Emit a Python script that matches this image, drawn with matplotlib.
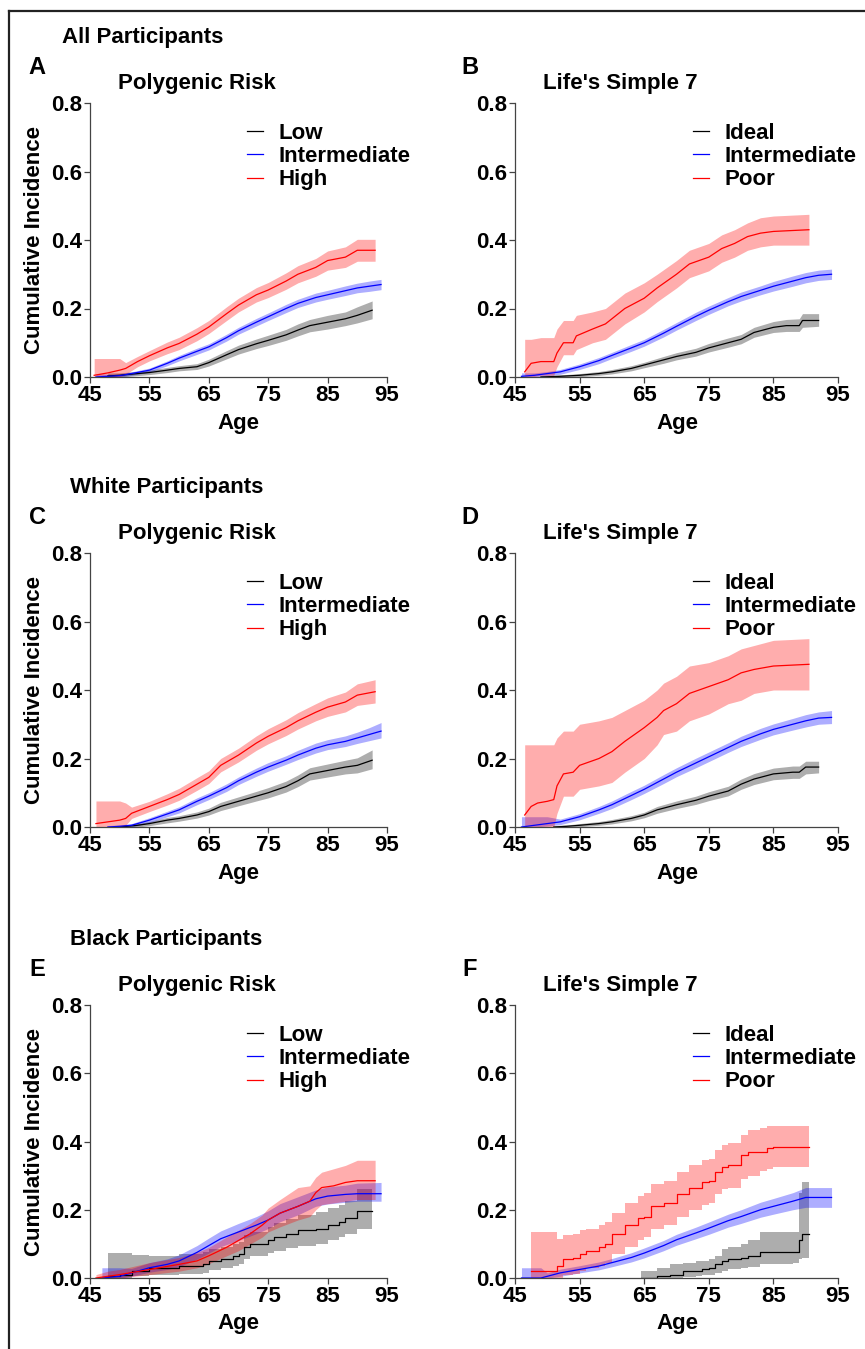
import matplotlib
matplotlib.use("Agg")
import matplotlib.pyplot as plt
from matplotlib.lines import Line2D

plt.rcParams['font.family'] = ['Liberation Sans', 'DejaVu Sans']
plt.rcParams['font.weight'] = 'bold'

# ---- data (age, estimate, lower CI, upper CI) ----
# A: all participants, polygenic risk
a_low_age = [48, 50, 53, 55, 58, 60, 63, 65, 68, 70, 73, 75, 78, 80, 82, 85, 88, 90, 92.5]
a_low_est = [0.003, 0.005, 0.01, 0.013, 0.02, 0.025, 0.03, 0.042, 0.065, 0.08, 0.097, 0.107, 0.123, 0.137, 0.15, 0.16, 0.17, 0.18, 0.195]
a_low_lo = [0.0, 0.0, 0.004, 0.007, 0.013, 0.018, 0.022, 0.032, 0.053, 0.067, 0.083, 0.092, 0.107, 0.12, 0.132, 0.14, 0.15, 0.158, 0.17]
a_low_hi = [0.012, 0.012, 0.016, 0.02, 0.028, 0.033, 0.039, 0.052, 0.077, 0.093, 0.111, 0.122, 0.139, 0.155, 0.168, 0.18, 0.19, 0.205, 0.222]

a_int_age = [46, 48, 50, 52, 55, 58, 60, 63, 65, 68, 70, 73, 75, 78, 80, 83, 85, 88, 90, 92, 94]
a_int_est = [0.0, 0.002, 0.004, 0.01, 0.02, 0.04, 0.055, 0.075, 0.088, 0.115, 0.135, 0.16, 0.176, 0.2, 0.215, 0.232, 0.24, 0.252, 0.26, 0.265, 0.27]
a_int_lo = [0.0, 0.0, 0.0, 0.005, 0.014, 0.033, 0.047, 0.066, 0.079, 0.105, 0.125, 0.149, 0.165, 0.188, 0.203, 0.219, 0.227, 0.238, 0.246, 0.25, 0.255]
a_int_hi = [0.01, 0.008, 0.009, 0.015, 0.026, 0.047, 0.063, 0.084, 0.097, 0.125, 0.145, 0.171, 0.187, 0.212, 0.227, 0.245, 0.253, 0.266, 0.274, 0.28, 0.285]

a_high_age = [45.7, 48, 50, 51, 53, 55, 58, 60, 63, 65, 68, 70, 73, 75, 78, 80, 83, 85, 88, 90, 93]
a_high_est = [0.005, 0.012, 0.02, 0.025, 0.045, 0.062, 0.085, 0.098, 0.125, 0.146, 0.185, 0.21, 0.24, 0.254, 0.28, 0.3, 0.32, 0.34, 0.35, 0.37, 0.37]
a_high_lo = [0.0, 0.0, 0.0, 0.008, 0.03, 0.047, 0.068, 0.08, 0.106, 0.127, 0.165, 0.19, 0.219, 0.232, 0.256, 0.275, 0.294, 0.312, 0.32, 0.338, 0.338]
a_high_hi = [0.054, 0.054, 0.054, 0.042, 0.06, 0.077, 0.102, 0.116, 0.144, 0.165, 0.205, 0.23, 0.261, 0.276, 0.304, 0.325, 0.346, 0.368, 0.38, 0.402, 0.402]

# B: all participants, Life's Simple 7
b_ideal_age = [49, 52, 55, 58, 60, 63, 65, 68, 70, 73, 75, 78, 80, 82, 85, 87, 89, 89.5, 92]
b_ideal_est = [0.0, 0.002, 0.005, 0.01, 0.015, 0.025, 0.035, 0.05, 0.06, 0.072, 0.085, 0.1, 0.11, 0.13, 0.145, 0.15, 0.15, 0.165, 0.165]
b_ideal_lo = [0.0, 0.0, 0.001, 0.005, 0.009, 0.018, 0.027, 0.04, 0.05, 0.061, 0.073, 0.087, 0.097, 0.116, 0.13, 0.133, 0.133, 0.145, 0.148]
b_ideal_hi = [0.004, 0.006, 0.01, 0.016, 0.022, 0.033, 0.043, 0.06, 0.071, 0.084, 0.098, 0.114, 0.124, 0.145, 0.162, 0.168, 0.17, 0.185, 0.185]

b_int_age = [46, 48, 50, 52, 55, 58, 60, 63, 65, 68, 70, 73, 75, 78, 80, 83, 85, 88, 90, 92, 94]
b_int_est = [0.002, 0.005, 0.01, 0.015, 0.03, 0.048, 0.063, 0.085, 0.1, 0.128, 0.148, 0.177, 0.195, 0.22, 0.235, 0.253, 0.265, 0.28, 0.29, 0.297, 0.3]
b_int_lo = [0.0, 0.0, 0.004, 0.008, 0.022, 0.039, 0.054, 0.075, 0.09, 0.117, 0.137, 0.165, 0.183, 0.208, 0.222, 0.24, 0.251, 0.265, 0.275, 0.282, 0.285]
b_int_hi = [0.012, 0.012, 0.016, 0.022, 0.038, 0.057, 0.072, 0.095, 0.11, 0.139, 0.159, 0.189, 0.207, 0.232, 0.248, 0.266, 0.279, 0.295, 0.305, 0.312, 0.315]

b_poor_age = [46.5, 47.5, 49, 51, 51.5, 52.5, 54, 54.5, 57, 59, 60, 62, 65, 67, 70, 72, 75, 77, 79, 81, 83, 85, 90.5]
b_poor_est = [0.015, 0.04, 0.045, 0.045, 0.07, 0.1, 0.1, 0.12, 0.14, 0.155, 0.17, 0.2, 0.23, 0.26, 0.3, 0.33, 0.35, 0.375, 0.39, 0.41, 0.42, 0.425, 0.43]
b_poor_lo = [0.0, 0.0, 0.005, 0.005, 0.03, 0.065, 0.065, 0.08, 0.1, 0.11, 0.125, 0.155, 0.19, 0.22, 0.26, 0.29, 0.31, 0.335, 0.35, 0.37, 0.38, 0.385, 0.385]
b_poor_hi = [0.11, 0.11, 0.115, 0.115, 0.14, 0.165, 0.165, 0.18, 0.19, 0.2, 0.215, 0.245, 0.275, 0.3, 0.34, 0.37, 0.39, 0.415, 0.43, 0.45, 0.465, 0.47, 0.475]

# C: white participants, polygenic risk
c_low_age = [50, 53, 55, 58, 60, 63, 65, 67, 70, 73, 75, 78, 80, 82, 85, 88, 90, 92.5]
c_low_est = [0.0, 0.005, 0.01, 0.02, 0.025, 0.035, 0.045, 0.06, 0.075, 0.09, 0.1, 0.118, 0.135, 0.155, 0.165, 0.175, 0.18, 0.195]
c_low_lo = [0.0, 0.0, 0.004, 0.012, 0.017, 0.026, 0.035, 0.048, 0.062, 0.076, 0.085, 0.102, 0.118, 0.137, 0.146, 0.155, 0.158, 0.17]
c_low_hi = [0.004, 0.01, 0.016, 0.028, 0.033, 0.044, 0.055, 0.072, 0.088, 0.104, 0.115, 0.134, 0.152, 0.173, 0.184, 0.195, 0.202, 0.225]

c_int_age = [48, 50, 52, 55, 58, 60, 63, 65, 68, 70, 73, 75, 78, 80, 83, 85, 88, 90, 92, 94]
c_int_est = [0.0, 0.002, 0.005, 0.02, 0.038, 0.05, 0.075, 0.09, 0.115, 0.135, 0.16, 0.175, 0.195, 0.21, 0.23, 0.24, 0.25, 0.26, 0.27, 0.28]
c_int_lo = [0.0, 0.0, 0.0, 0.013, 0.03, 0.041, 0.065, 0.08, 0.104, 0.124, 0.148, 0.163, 0.183, 0.197, 0.216, 0.226, 0.235, 0.244, 0.252, 0.26]
c_int_hi = [0.004, 0.006, 0.01, 0.027, 0.046, 0.059, 0.085, 0.1, 0.126, 0.146, 0.172, 0.188, 0.208, 0.224, 0.245, 0.255, 0.266, 0.277, 0.29, 0.305]

c_high_age = [46, 48, 50, 51, 52, 55, 58, 60, 63, 65, 67, 70, 73, 75, 78, 80, 83, 85, 88, 90, 93]
c_high_est = [0.01, 0.015, 0.02, 0.025, 0.04, 0.06, 0.08, 0.095, 0.125, 0.145, 0.18, 0.21, 0.245, 0.265, 0.29, 0.31, 0.335, 0.35, 0.365, 0.385, 0.395]
c_high_lo = [0.0, 0.0, 0.0, 0.005, 0.025, 0.045, 0.064, 0.078, 0.107, 0.127, 0.161, 0.19, 0.224, 0.243, 0.267, 0.286, 0.31, 0.323, 0.336, 0.355, 0.362]
c_high_hi = [0.076, 0.076, 0.076, 0.07, 0.058, 0.075, 0.097, 0.113, 0.144, 0.164, 0.2, 0.23, 0.266, 0.287, 0.313, 0.334, 0.36, 0.377, 0.394, 0.418, 0.43]

# D: white participants, Life's Simple 7
d_ideal_age = [51, 53, 55, 58, 60, 63, 65, 67, 70, 73, 75, 78, 80, 82, 85, 88, 89, 90, 92]
d_ideal_est = [0.0, 0.002, 0.005, 0.01, 0.015, 0.025, 0.035, 0.05, 0.065, 0.078, 0.09, 0.105, 0.125, 0.14, 0.155, 0.16, 0.16, 0.175, 0.175]
d_ideal_lo = [0.0, 0.0, 0.001, 0.005, 0.009, 0.018, 0.027, 0.04, 0.054, 0.066, 0.077, 0.091, 0.11, 0.124, 0.138, 0.142, 0.142, 0.155, 0.158]
d_ideal_hi = [0.004, 0.006, 0.01, 0.016, 0.022, 0.033, 0.043, 0.06, 0.076, 0.09, 0.103, 0.119, 0.14, 0.156, 0.172, 0.178, 0.178, 0.192, 0.192]

d_int_age = [46, 48, 50, 52, 55, 58, 60, 63, 65, 68, 70, 73, 75, 78, 80, 83, 85, 88, 90, 92, 94]
d_int_est = [0.0, 0.005, 0.01, 0.015, 0.03, 0.05, 0.065, 0.092, 0.11, 0.14, 0.16, 0.187, 0.205, 0.232, 0.25, 0.272, 0.285, 0.3, 0.31, 0.318, 0.32]
d_int_lo = [0.0, 0.0, 0.003, 0.007, 0.021, 0.04, 0.054, 0.08, 0.098, 0.127, 0.147, 0.173, 0.191, 0.218, 0.235, 0.256, 0.269, 0.283, 0.292, 0.3, 0.302]
d_int_hi = [0.03, 0.03, 0.03, 0.023, 0.039, 0.06, 0.076, 0.104, 0.122, 0.153, 0.173, 0.201, 0.219, 0.246, 0.265, 0.288, 0.301, 0.317, 0.328, 0.336, 0.34]

d_poor_age = [46.5, 47.5, 48.5, 50, 51, 51.5, 52.5, 54, 55, 58, 60, 62, 65, 67, 68, 70, 72, 75, 78, 80, 82, 85, 90.5]
d_poor_est = [0.035, 0.06, 0.07, 0.075, 0.08, 0.12, 0.155, 0.16, 0.18, 0.2, 0.22, 0.25, 0.29, 0.32, 0.34, 0.36, 0.39, 0.41, 0.43, 0.45, 0.46, 0.47, 0.475]
d_poor_lo = [0.0, 0.0, 0.0, 0.0, 0.0, 0.04, 0.09, 0.09, 0.11, 0.12, 0.13, 0.16, 0.2, 0.24, 0.27, 0.28, 0.31, 0.33, 0.36, 0.37, 0.39, 0.4, 0.4]
d_poor_hi = [0.24, 0.24, 0.24, 0.24, 0.24, 0.26, 0.28, 0.28, 0.3, 0.31, 0.32, 0.34, 0.37, 0.4, 0.42, 0.44, 0.47, 0.48, 0.5, 0.52, 0.53, 0.545, 0.55]

# E: black participants, polygenic risk
e_low_age = [48, 50, 52, 55, 60, 64, 65, 67, 69, 70, 71, 72, 75, 76, 78, 80, 83, 85, 87, 88, 90, 92.5]
e_low_est = [0.005, 0.01, 0.02, 0.03, 0.035, 0.04, 0.05, 0.055, 0.065, 0.07, 0.09, 0.1, 0.11, 0.12, 0.13, 0.14, 0.145, 0.155, 0.165, 0.175, 0.195, 0.195]
e_low_lo = [0.0, 0.0, 0.005, 0.01, 0.012, 0.015, 0.022, 0.028, 0.035, 0.04, 0.055, 0.065, 0.072, 0.08, 0.088, 0.095, 0.1, 0.11, 0.12, 0.128, 0.143, 0.143]
e_low_hi = [0.072, 0.072, 0.068, 0.065, 0.07, 0.075, 0.085, 0.09, 0.1, 0.105, 0.125, 0.135, 0.15, 0.16, 0.172, 0.185, 0.192, 0.205, 0.215, 0.225, 0.26, 0.26]

e_int_age = [47, 50, 52, 55, 58, 60, 63, 65, 67, 70, 73, 75, 77, 80, 83, 85, 88, 90, 94]
e_int_est = [0.0, 0.005, 0.015, 0.03, 0.04, 0.05, 0.075, 0.095, 0.115, 0.135, 0.155, 0.17, 0.19, 0.21, 0.232, 0.24, 0.245, 0.247, 0.247]
e_int_lo = [0.0, 0.0, 0.005, 0.017, 0.025, 0.033, 0.055, 0.073, 0.092, 0.11, 0.13, 0.145, 0.165, 0.185, 0.21, 0.217, 0.222, 0.225, 0.225]
e_int_hi = [0.03, 0.03, 0.028, 0.045, 0.056, 0.068, 0.095, 0.117, 0.138, 0.16, 0.18, 0.197, 0.218, 0.238, 0.258, 0.267, 0.272, 0.278, 0.28]

e_high_age = [46, 48, 50, 55, 60, 63, 65, 68, 70, 72, 74, 75, 77, 80, 82, 83, 84, 86, 88, 90, 93]
e_high_est = [0.0, 0.005, 0.01, 0.025, 0.04, 0.05, 0.065, 0.09, 0.11, 0.13, 0.155, 0.17, 0.19, 0.21, 0.225, 0.25, 0.265, 0.27, 0.28, 0.285, 0.285]
e_high_lo = [0.0, 0.0, 0.0, 0.01, 0.02, 0.03, 0.042, 0.065, 0.08, 0.1, 0.12, 0.135, 0.15, 0.17, 0.18, 0.2, 0.215, 0.22, 0.225, 0.23, 0.23]
e_high_hi = [0.01, 0.02, 0.025, 0.045, 0.06, 0.075, 0.09, 0.12, 0.14, 0.16, 0.185, 0.205, 0.23, 0.265, 0.27, 0.295, 0.31, 0.32, 0.33, 0.345, 0.345]

# F: black participants, Life's Simple 7
f_ideal_age = [64.5, 67, 69, 71, 73, 74, 75, 76, 77, 78, 80, 81, 83, 88, 89, 89.5, 90.5]
f_ideal_est = [0.0, 0.005, 0.01, 0.02, 0.02, 0.025, 0.03, 0.04, 0.05, 0.055, 0.06, 0.065, 0.075, 0.075, 0.11, 0.13, 0.13]
f_ideal_lo = [0.0, 0.0, 0.0, 0.003, 0.005, 0.008, 0.01, 0.015, 0.02, 0.025, 0.03, 0.032, 0.04, 0.045, 0.055, 0.06, 0.06]
f_ideal_hi = [0.02, 0.03, 0.04, 0.045, 0.05, 0.05, 0.055, 0.065, 0.085, 0.09, 0.1, 0.11, 0.135, 0.135, 0.25, 0.28, 0.28]

f_int_age = [46, 49, 50, 52, 55, 58, 60, 63, 65, 68, 70, 73, 75, 78, 80, 83, 85, 88, 90, 94]
f_int_est = [0.0, 0.0, 0.005, 0.015, 0.025, 0.035, 0.045, 0.06, 0.073, 0.095, 0.112, 0.132, 0.146, 0.168, 0.18, 0.2, 0.21, 0.225, 0.236, 0.236]
f_int_lo = [0.0, 0.0, 0.0, 0.005, 0.015, 0.024, 0.033, 0.047, 0.059, 0.08, 0.096, 0.115, 0.128, 0.149, 0.16, 0.178, 0.187, 0.2, 0.207, 0.207]
f_int_hi = [0.03, 0.03, 0.015, 0.026, 0.036, 0.047, 0.057, 0.074, 0.088, 0.11, 0.128, 0.149, 0.164, 0.187, 0.2, 0.222, 0.233, 0.25, 0.265, 0.265]

f_poor_age = [47.5, 51, 51.5, 52.5, 54, 55, 56, 58, 59, 60, 62, 64, 65, 66, 68, 70, 72, 74, 75, 76, 77, 78, 80, 81, 83, 84, 85, 90.5]
f_poor_est = [0.02, 0.02, 0.035, 0.055, 0.06, 0.07, 0.08, 0.09, 0.1, 0.13, 0.155, 0.175, 0.18, 0.21, 0.22, 0.245, 0.265, 0.28, 0.285, 0.31, 0.325, 0.33, 0.36, 0.37, 0.37, 0.38, 0.385, 0.385]
f_poor_lo = [0.0, 0.0, 0.0, 0.01, 0.012, 0.02, 0.028, 0.035, 0.045, 0.07, 0.09, 0.11, 0.12, 0.145, 0.155, 0.18, 0.2, 0.215, 0.22, 0.245, 0.26, 0.265, 0.29, 0.3, 0.315, 0.32, 0.325, 0.325]
f_poor_hi = [0.135, 0.135, 0.115, 0.125, 0.128, 0.14, 0.145, 0.155, 0.165, 0.19, 0.22, 0.24, 0.25, 0.275, 0.285, 0.31, 0.33, 0.345, 0.35, 0.375, 0.39, 0.395, 0.42, 0.435, 0.44, 0.445, 0.445, 0.445]

prs_labels = ["Low", "Intermediate", "High"]
ls7_labels = ["Ideal", "Intermediate", "Poor"]
group_colors = ["black", "blue", "red"]
x_ticks = [45, 55, 65, 75, 85, 95]
y_ticks = [0.0, 0.2, 0.4, 0.6, 0.8]

# ---- layout (pixels) ----
W, H = 865, 1349
fig = plt.figure(figsize=(W / 100, H / 100), dpi=100)


def fx(px):
    return px / W


def fy(py):
    return 1 - py / H


col_x = [(90, 387), (515, 838)]
row_y = [(103, 377), (553, 827), (1005, 1278)]

# (letter, title, labels, row, col, step-drawn series, series)
panels = [
    ("A", "Polygenic Risk", prs_labels, 0, 0, [],
     [(a_low_age, a_low_est, a_low_lo, a_low_hi), (a_int_age, a_int_est, a_int_lo, a_int_hi),
      (a_high_age, a_high_est, a_high_lo, a_high_hi)]),
    ("B", "Life's Simple 7", ls7_labels, 0, 1, [],
     [(b_ideal_age, b_ideal_est, b_ideal_lo, b_ideal_hi), (b_int_age, b_int_est, b_int_lo, b_int_hi),
      (b_poor_age, b_poor_est, b_poor_lo, b_poor_hi)]),
    ("C", "Polygenic Risk", prs_labels, 1, 0, [],
     [(c_low_age, c_low_est, c_low_lo, c_low_hi), (c_int_age, c_int_est, c_int_lo, c_int_hi),
      (c_high_age, c_high_est, c_high_lo, c_high_hi)]),
    ("D", "Life's Simple 7", ls7_labels, 1, 1, [],
     [(d_ideal_age, d_ideal_est, d_ideal_lo, d_ideal_hi), (d_int_age, d_int_est, d_int_lo, d_int_hi),
      (d_poor_age, d_poor_est, d_poor_lo, d_poor_hi)]),
    ("E", "Polygenic Risk", prs_labels, 2, 0, [0],
     [(e_low_age, e_low_est, e_low_lo, e_low_hi), (e_int_age, e_int_est, e_int_lo, e_int_hi),
      (e_high_age, e_high_est, e_high_lo, e_high_hi)]),
    ("F", "Life's Simple 7", ls7_labels, 2, 1, [0, 2],
     [(f_ideal_age, f_ideal_est, f_ideal_lo, f_ideal_hi), (f_int_age, f_int_est, f_int_lo, f_int_hi),
      (f_poor_age, f_poor_est, f_poor_lo, f_poor_hi)]),
]

fs = 16
for letter, title, labels, r, c, steps, series in panels:
    x0, x1 = col_x[c]
    y0, y1 = row_y[r]
    ax = fig.add_axes([fx(x0), fy(y1), (x1 - x0) / W, (y1 - y0) / H])
    for i, ((age, est, lo, hi), col) in enumerate(zip(series, group_colors)):
        if i in steps:
            ax.fill_between(age, lo, hi, step="post", color=col, alpha=0.32, linewidth=0)
            ax.plot(age, est, color=col, lw=0.9, drawstyle="steps-post")
        else:
            ax.fill_between(age, lo, hi, color=col, alpha=0.32, linewidth=0)
            ax.plot(age, est, color=col, lw=0.9)
    ax.set_xlim(45, 95)
    ax.set_ylim(0, 0.8)
    ax.set_xticks(x_ticks)
    ax.set_yticks(y_ticks)
    ax.set_yticklabels([f"{v:.1f}" for v in y_ticks])
    for s in ["top", "right"]:
        ax.spines[s].set_visible(False)
    for s in ["left", "bottom"]:
        ax.spines[s].set_color("#444444")
        ax.spines[s].set_linewidth(0.9)
    ax.tick_params(direction="out", length=4, width=0.9, color="#444444",
                   labelsize=fs, pad=2)
    for lab in ax.get_xticklabels() + ax.get_yticklabels():
        lab.set_fontweight("bold")

    handles = [Line2D([], [], color=col, lw=0.9) for col in group_colors]
    hx = 247 if c == 0 else 693
    ax.legend(handles, labels, loc="upper left",
              bbox_to_anchor=(fx(hx), fy(123 + row_y[r][0] - 103)),
              bbox_transform=fig.transFigure, frameon=False,
              handlelength=0.72, handletextpad=0.68, labelspacing=0.1,
              borderpad=0, borderaxespad=0, prop={"size": fs, "weight": "bold"})

    # titles and labels
    cx = 197 if c == 0 else 620
    fig.text(fx(cx), fy(y0 - 20), title, ha="center", va="center", fontsize=fs, fontweight="bold")
    lx = 37 if c == 0 else 470
    fig.text(fx(lx), fy(y0 - 35), letter, ha="center", va="center", fontsize=fs + 1, fontweight="bold")
    ax_cx = 238 if c == 0 else 677
    fig.text(fx(ax_cx), fy(y1 + 46), "Age", ha="center", va="center", fontsize=fs, fontweight="bold")
    if c == 0:
        fig.text(fx(35), fy((y0 + y1) / 2), "Cumulative Incidence", rotation=90,
                 ha="center", va="center", fontsize=fs, fontweight="bold")

fig.text(fx(62), fy(38), "All Participants", ha="left", va="center", fontsize=fs, fontweight="bold")
fig.text(fx(70), fy(488), "White Participants", ha="left", va="center", fontsize=fs, fontweight="bold")
fig.text(fx(70), fy(940), "Black Participants", ha="left", va="center", fontsize=fs, fontweight="bold")

# outer frame (top and left edges visible)
fig.add_artist(Line2D([fx(9), 1.0], [fy(11), fy(11)], transform=fig.transFigure, color="#222222", lw=1.6))
fig.add_artist(Line2D([fx(9), fx(9)], [fy(11), 0.0], transform=fig.transFigure, color="#222222", lw=1.6))

fig.savefig("out.png", dpi=100)
